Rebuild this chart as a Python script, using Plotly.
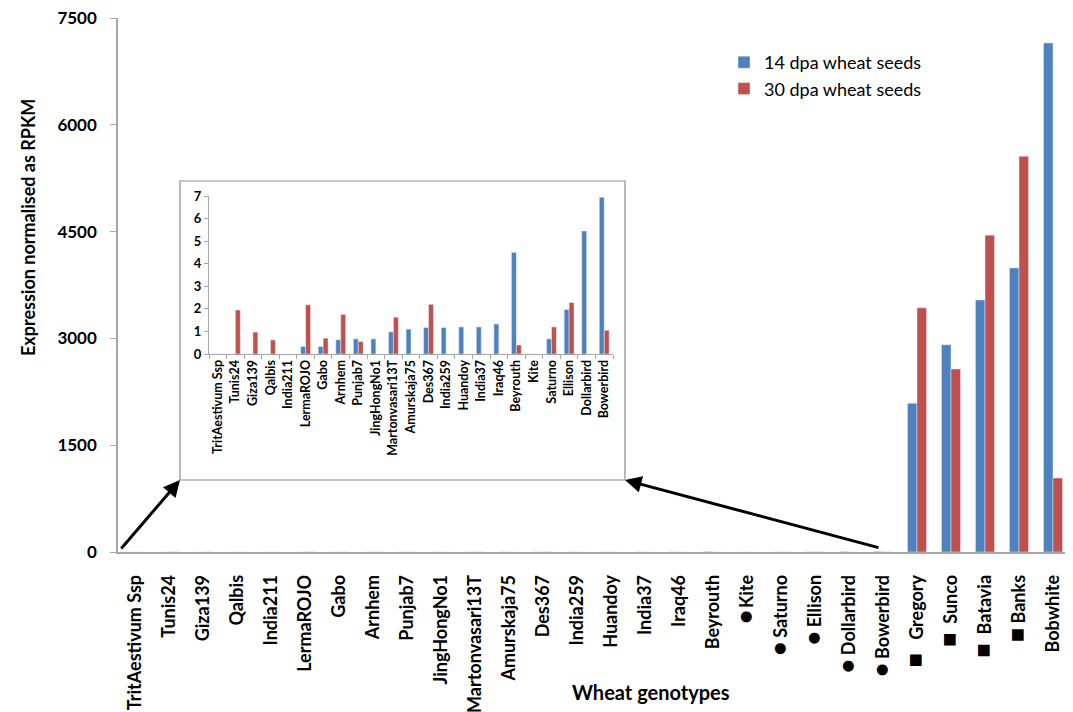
import plotly.graph_objects as go

genotypes = ["TritAestivum Ssp", "Tunis24", "Giza139", "Qalbis", "India211", "LermaROJO",
             "Gabo", "Arnhem", "Punjab7", "JingHongNo1", "Martonvasari13T", "Amurskaja75",
             "Des367", "India259", "Huandoy", "India37", "Iraq46", "Beyrouth", "Kite",
             "Saturno", "Ellison", "Dollarbird", "Bowerbird", "Gregory", "Sunco", "Batavia",
             "Banks", "Bobwhite"]
group_marker = [""] * 18 + ["●"] * 5 + ["■"] * 4 + [""]
marker_gap = [""] * 18 + ["\u2009", " ", " ", " ", " "] + ["\u00a0\u00a0\u00a0", "\u00a0\u00a0", "\u00a0\u00a0", "\u00a0"] + [""]

dpa14 = [0, 0, 0, 0, 0, 0.33, 0.33, 0.63, 0.67, 0.67, 0.98, 1.10, 1.17, 1.17, 1.20, 1.20,
         1.33, 4.50, 0, 0.67, 1.97, 5.45, 6.95, 2090, 2910, 3540, 3990, 7150]
dpa30 = [0, 1.95, 0.97, 0.62, 0, 2.18, 0.70, 1.75, 0.55, 0, 1.63, 0, 2.20, 0, 0, 0,
         0, 0.40, 0, 1.20, 2.28, 0, 1.05, 3430, 2570, 4450, 5560, 1040]

n_inset = 23  # TritAestivum Ssp .. Bowerbird shown in the zoomed inset
y_ticks = [0, 1500, 3000, 4500, 6000, 7500]
inset_ticks = [0, 1, 2, 3, 4, 5, 6, 7]

series_names = ["14 dpa wheat seeds", "30 dpa wheat seeds"]
blue = "#4F81BD"
red = "#C0504D"
axis_grey = "#A6A6A6"
FONT = "Lato"

main_ticktext = []
for g, m, gap in zip(genotypes, group_marker, marker_gap):
    if m:
        size = 22 if m == "●" else 24
        main_ticktext.append(f'<span style="font-size:{size}px">{m}</span>{gap}{g}')
    else:
        main_ticktext.append(g)

fig = go.Figure()
fig.add_trace(go.Bar(x=genotypes, y=dpa14, name=series_names[0], marker_color=blue,
                     xaxis="x", yaxis="y"))
fig.add_trace(go.Bar(x=genotypes, y=dpa30, name=series_names[1], marker_color=red,
                     xaxis="x", yaxis="y"))
fig.add_trace(go.Bar(x=genotypes[:n_inset], y=dpa14[:n_inset], marker_color=blue,
                     showlegend=False, xaxis="x2", yaxis="y2"))
fig.add_trace(go.Bar(x=genotypes[:n_inset], y=dpa30[:n_inset], marker_color=red,
                     showlegend=False, xaxis="x2", yaxis="y2"))

OFF = 8  # page body margin
W, H = 1073 - OFF, 712 - OFF
L, T = 118 - OFF, 18 - OFF
R = W - (1070 - OFF)
B = H - (552 - OFF)
pw, ph = W - L - R, H - T - B


def px(xs):
    return (xs - OFF - L) / pw


def py(ys):
    return (H - B - (ys - OFF)) / ph


fig.update_layout(
    width=W, height=H,
    margin=dict(l=L, r=R, t=T, b=B, autoexpand=False),
    plot_bgcolor="white", paper_bgcolor="white",
    barmode="group", bargap=0.44, bargroupgap=0,
    font=dict(family=FONT, color="black"),
    showlegend=True,
    legend=dict(x=px(724), y=py(44), xanchor="left", yanchor="top", itemwidth=30,
                font=dict(family=FONT, size=18, color="black"),
                bgcolor="rgba(0,0,0,0)", tracegroupgap=2),
    xaxis=dict(domain=[0, 1], showline=True, linecolor=axis_grey, linewidth=1.5,
               ticks="", tickangle=-90, tickmode="array", tickvals=genotypes,
               ticktext=main_ticktext, ticklabelstandoff=14,
               tickfont=dict(family=FONT, size=18, weight="bold", color="black"),
               showgrid=False, zeroline=False, fixedrange=True),
    yaxis=dict(domain=[0, 1], range=[0, 7500], tickvals=y_ticks, showline=True,
               linecolor=axis_grey, linewidth=1.5, ticks="outside", ticklen=6,
               tickcolor=axis_grey, showgrid=False, zeroline=False, ticklabelstandoff=10,
               ticklabeloverflow="allow",
               tickfont=dict(family=FONT, size=17, weight="bold", color="black")),
    xaxis2=dict(domain=[px(209), px(613)], anchor="y2", showline=True, linecolor=axis_grey,
                linewidth=1, ticks="outside", ticklen=4, tickcolor=axis_grey,
                tickson="boundaries", tickangle=-90,
                tickfont=dict(family=FONT, size=12.5, weight="bold", color="black"),
                showgrid=False, zeroline=False),
    yaxis2=dict(domain=[py(354), py(196)], anchor="x2", range=[0, 7], tickvals=inset_ticks,
                showline=True, linecolor=axis_grey, linewidth=1, ticks="outside", ticklen=4,
                tickcolor=axis_grey, showgrid=False, zeroline=False,
                tickfont=dict(family=FONT, size=13, weight="bold", color="black")),
)

# inset frame
fig.add_shape(type="rect", xref="paper", yref="paper",
              x0=px(180), x1=px(625), y0=py(480), y1=py(181),
              line=dict(color="#8C8C8C", width=1.2), fillcolor="rgba(0,0,0,0)", layer="below")

# arrows pointing to the inset corners
fig.add_annotation(xref="paper", yref="paper", x=px(180), y=py(480), ax=-60, ay=70,
                   showarrow=True, arrowhead=2, arrowsize=1.1, arrowwidth=3,
                   arrowcolor="black", text="", standoff=0)
fig.add_annotation(xref="paper", yref="paper", x=px(625), y=py(480), ax=255, ay=68,
                   showarrow=True, arrowhead=2, arrowsize=1.1, arrowwidth=3,
                   arrowcolor="black", text="", standoff=0)

# axis titles
fig.add_annotation(xref="paper", yref="paper", x=px(651), y=py(692), xanchor="center",
                   yanchor="middle", showarrow=False, text="Wheat genotypes",
                   font=dict(family=FONT, size=20, weight="bold", color="black"))
fig.add_annotation(xref="paper", yref="paper", x=px(28), y=py(228), xanchor="center",
                   yanchor="middle", showarrow=False, textangle=-90,
                   text="Expression normalised as RPKM",
                   font=dict(family=FONT, size=18, weight="bold", color="black"))

fig.write_html("out.html")
